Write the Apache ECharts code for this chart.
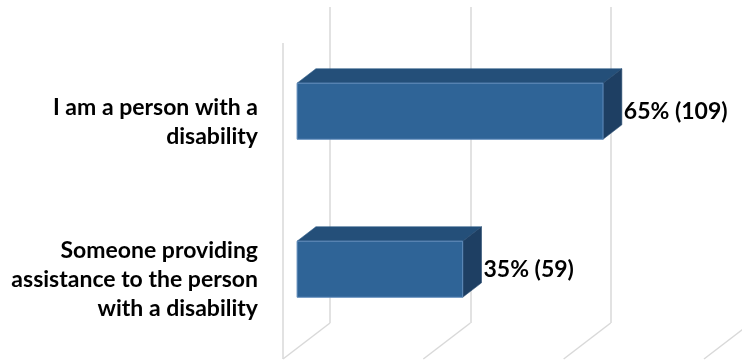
<!DOCTYPE html>
<html>
<head>
<meta charset="utf-8">
<script src="https://cdn.jsdelivr.net/npm/echarts@6/dist/echarts.min.js"></script>
<style>
  html, body { margin: 0; padding: 0; background: #fff; }
  #chart { width: 742px; height: 360px; }
</style>
</head>
<body>
<div id="chart"></div>
<script>
// Respondent groups and their counts / shares
const categories = [
  'I am a person with a\ndisability',
  'Someone providing\nassistance to the person\nwith a disability'
];
const counts = [109, 59];
const shares = ['65%', '35%'];
const xTicks = [0, 50, 100, 150];

const FONT = 'Lato, "Open Sans", sans-serif';
const FONT_SIZE = 23;
// Oblique depth of the 3D box: vector from back wall to front edge
const DEPTH_X = -47, DEPTH_Y = 36;
const FRONT = 0.7, BACK = 0.3;   // bar faces, as fraction of the depth from the back wall
const LABEL_GAP = 72;            // category labels sit this far left of the back wall

const chart = echarts.init(document.getElementById('chart'), null, { renderer: 'canvas' });

function renderBar(params, api) {
  const i = params.dataIndex;
  const v = api.value(0), idx = api.value(1);
  const base = api.coord([0, idx]);
  const end = api.coord([v, idx]);
  const h = api.size([0, 1])[1] * 0.355;
  const fdx = DEPTH_X * FRONT, fdy = DEPTH_Y * FRONT;
  const bdx = DEPTH_X * BACK, bdy = DEPTH_Y * BACK;
  const fl = base[0] + fdx, fr = end[0] + fdx;
  const ft = base[1] + fdy - h / 2, fb = base[1] + fdy + h / 2;
  const bl = base[0] + bdx, br = end[0] + bdx;
  const bt = base[1] + bdy - h / 2, bb = base[1] + bdy + h / 2;
  return {
    type: 'group',
    children: [
      { type: 'polygon', shape: { points: [[fl, ft], [fr, ft], [br, bt], [bl, bt]] },
        style: { fill: '#244f79', stroke: '#2c5a86', lineWidth: 0.6 } },
      { type: 'polygon', shape: { points: [[fr, ft], [br, bt], [br, bb], [fr, fb]] },
        style: { fill: '#1e3f63', stroke: '#26496f', lineWidth: 0.6 } },
      { type: 'rect', shape: { x: fl, y: ft, width: fr - fl, height: fb - ft },
        style: { fill: '#2f6497', stroke: '#5f8bbb', lineWidth: 1 } },
      // value label beside the bar end
      { type: 'text', style: {
          x: br + 2, y: base[1] + fdy,
          text: shares[i] + ' (' + counts[i] + ')',
          fontFamily: FONT, fontSize: FONT_SIZE, fontWeight: 'bold', fill: '#000',
          align: 'left', verticalAlign: 'middle' } },
      // category label, centred on the front edge of its band
      { type: 'text', style: {
          x: base[0] - LABEL_GAP, y: base[1] + DEPTH_Y,
          text: categories[i], lineHeight: 29,
          fontFamily: FONT, fontSize: FONT_SIZE, fontWeight: 'bold', fill: '#000',
          align: 'right', verticalAlign: 'middle' } }
    ]
  };
}

function renderFloor(params, api) {
  const cs = params.coordSys;
  const x = api.coord([api.value(0), 0])[0];
  const bottom = cs.y + cs.height;
  const children = [
    { type: 'line', shape: { x1: x, y1: bottom, x2: x + DEPTH_X, y2: bottom + DEPTH_Y },
      style: { stroke: '#d9d9d9', lineWidth: 1.5 } }
  ];
  if (params.dataIndex === 0) {
    children.push({ type: 'line',
      shape: { x1: x + DEPTH_X, y1: cs.y + DEPTH_Y, x2: x + DEPTH_X, y2: bottom + DEPTH_Y },
      style: { stroke: '#d9d9d9', lineWidth: 1.5 } });
  }
  return { type: 'group', children };
}

chart.setOption({
  animation: false,
  backgroundColor: '#fff',
  grid: { left: 330, top: 7, width: 421, height: 316, outerBoundsMode: 'none' },
  xAxis: {
    type: 'value', min: 0, max: 150, interval: 50,
    axisLine: { show: false }, axisTick: { show: false }, axisLabel: { show: false },
    splitLine: { show: true, lineStyle: { color: '#d9d9d9', width: 1.5 } }
  },
  yAxis: {
    type: 'category', data: categories, inverse: true,
    axisLine: { show: false }, axisTick: { show: false }, splitLine: { show: false },
    axisLabel: { show: false }
  },
  series: [
    { type: 'custom', renderItem: renderFloor, data: xTicks.map(t => [t]),
      encode: { x: 0 }, silent: true, clip: false, z: 1 },
    { type: 'custom', renderItem: renderBar, data: counts.map((c, i) => [c, i]),
      encode: { x: 0, y: 1 }, clip: false, z: 2 }
  ]
});
</script>
</body>
</html>
